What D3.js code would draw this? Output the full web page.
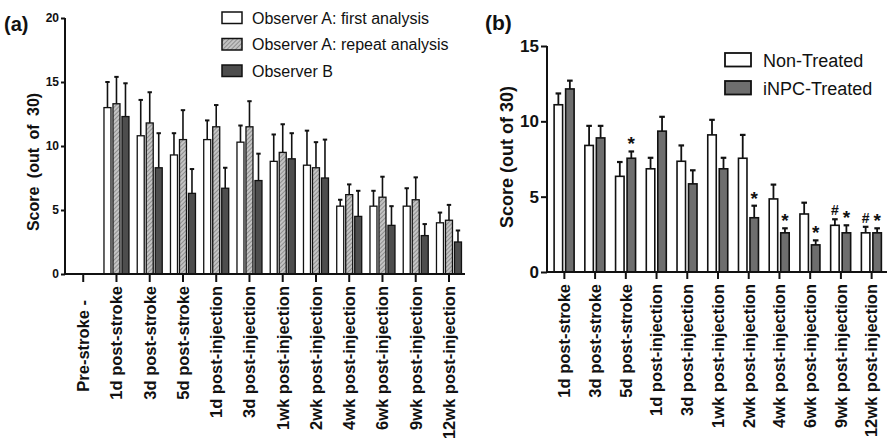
<!DOCTYPE html>
<html><head><meta charset="utf-8">
<script src="https://cdn.jsdelivr.net/npm/d3@7"></script>
<style>
body{margin:0;background:#fff;}
svg{display:block;font-family:Arial,"Liberation Sans",sans-serif;}
</style></head>
<body><svg id="c" width="895" height="446"></svg>
<script>
// ---------- Panel (a) data ----------
const catsA = ["Pre-stroke", "1d post-stroke", "3d post-stroke", "5d post-stroke", "1d post-injection", "3d post-injection", "1wk post-injection", "2wk post-injection", "4wk post-injection", "6wk post-injection", "9wk post-injection", "12wk post-injection"];
const tickLabelsA = ["Pre-stroke -", "1d post-stroke", "3d post-stroke", "5d post-stroke", "1d post-injection", "3d post-injection", "1wk post-injection", "2wk post-injection", "4wk post-injection", "6wk post-injection", "9wk post-injection", "12wk post-injection"];
const seriesNamesA = ["Observer A: first analysis", "Observer A: repeat analysis", "Observer B"];
const obsAFirst  = [null, 13.0, 10.8, 9.3, 10.5, 10.3, 8.8, 8.5, 5.3, 5.3, 5.3, 4.0];
const obsAFirstSD = [null, 2.0, 2.8, 1.7, 1.5, 1.3, 2.1, 2.7, 0.5, 1.2, 1.4, 0.8];
const obsARepeat = [null, 13.3, 11.8, 10.5, 11.5, 11.5, 9.5, 8.3, 6.2, 6.0, 5.8, 4.2];
const obsARepeatSD = [null, 2.1, 2.4, 2.3, 1.7, 2.0, 2.2, 2.0, 0.8, 1.6, 1.75, 1.2];
const obsB = [null, 12.3, 8.3, 6.3, 6.7, 7.3, 9.0, 7.5, 4.5, 3.8, 3.0, 2.5];
const obsBSD = [null, 2.6, 2.7, 1.9, 1.6, 2.1, 2.0, 3.0, 2.0, 1.5, 0.9, 0.9];
const yTicksA = [0, 5, 10, 15, 20];

// ---------- Panel (b) data ----------
const catsB = ["1d post-stroke", "3d post-stroke", "5d post-stroke", "1d post-injection", "3d post-injection", "1wk post-injection", "2wk post-injection", "4wk post-injection", "6wk post-injection", "9wk post-injection", "12wk post-injection"];
const seriesNamesB = ["Non-Treated", "iNPC-Treated"];
const nonTreated = [11.1, 8.4, 6.35, 6.85, 7.35, 9.1, 7.55, 4.85, 3.85, 3.1, 2.6];
const nonTreatedSD = [0.75, 1.3, 0.95, 0.73, 1.05, 1.0, 1.55, 0.95, 0.75, 0.4, 0.4];
const inpcTreated = [12.15, 8.9, 7.55, 9.35, 5.85, 6.85, 3.6, 2.6, 1.8, 2.6, 2.6];
const inpcTreatedSD = [0.55, 0.8, 0.45, 0.95, 0.9, 0.73, 0.8, 0.3, 0.3, 0.5, 0.3];
const markNonTreated = ["", "", "", "", "", "", "", "", "", "#", "#"];
const markInpc = ["", "", "*", "", "", "", "*", "*", "*", "*", "*"];
const yTicksB = [0, 5, 10, 15];

const svg = d3.select("#c");
const defs = svg.append("defs");
const pat = defs.append("pattern").attr("id","hatch").attr("patternUnits","userSpaceOnUse")
  .attr("width",3).attr("height",3).attr("patternTransform","rotate(45)");
pat.append("rect").attr("width",3).attr("height",3).attr("fill","#c4c4c4");
pat.append("line").attr("x1",0).attr("y1",0).attr("x2",0).attr("y2",3).attr("stroke","#6a6a6a").attr("stroke-width",1.2);

// ================= Panel (a) =================
const ga = svg.append("g");
const xA = d3.scaleBand().domain(catsA).range([66.6, 465.6]);
const yA = d3.scaleLinear().domain([0, 20]).range([274, 18]);
const seriesA = [
  {vals: obsAFirst, sd: obsAFirstSD, fill: "#ffffff"},
  {vals: obsARepeat, sd: obsARepeatSD, fill: "url(#hatch)"},
  {vals: obsB, sd: obsBSD, fill: "#4d4d4d"}
];
const bwA = 7, offA = [-9, 0, 9];
seriesA.forEach((s, si) => {
  catsA.forEach((c, i) => {
    const v = s.vals[i];
    if (v == null) return;
    const cx = xA(c) + xA.bandwidth()/2 + offA[si];
    const top = yA(v + s.sd[i]);
    ga.append("line").attr("x1",cx).attr("x2",cx).attr("y1",yA(v)).attr("y2",top)
      .attr("stroke","#111").attr("stroke-width",1.6);
    ga.append("line").attr("x1",cx-2.2).attr("x2",cx+2.2).attr("y1",top).attr("y2",top)
      .attr("stroke","#111").attr("stroke-width",2);
    ga.append("rect").attr("x",cx-bwA/2).attr("y",yA(v)).attr("width",bwA).attr("height",yA(0)-yA(v))
      .attr("fill",s.fill).attr("stroke","#111").attr("stroke-width",1.3);
  });
});
// y axis
const axA = ga.append("g").attr("transform","translate(65,0)")
  .call(d3.axisLeft(yA).tickValues(yTicksA).tickSize(4).tickPadding(2));
axA.select(".domain").attr("stroke","#111").attr("stroke-width",2).attr("d","M0,18V274");
axA.selectAll(".tick line").attr("stroke","#111").attr("stroke-width",2);
axA.selectAll(".tick text").attr("font-size",12).attr("font-weight","bold").attr("fill","#111")
  .attr("font-family","Arial,'Liberation Sans',sans-serif");
// x axis
const axXA = ga.append("g").attr("transform","translate(0,274)")
  .call(d3.axisBottom(xA).tickSize(8).tickFormat((d,i)=>tickLabelsA[i]));
axXA.select(".domain").attr("stroke","#111").attr("stroke-width",2).attr("d","M65,0H465");
axXA.selectAll(".tick line").attr("stroke","#111").attr("stroke-width",2).attr("y1",1);
axXA.selectAll(".tick text").attr("font-size",16.5).attr("font-weight","bold").attr("fill","#111")
  .attr("font-family","Arial,'Liberation Sans',sans-serif")
  .attr("text-anchor","end").attr("transform",(d,i)=>`translate(0,${i===0?26:12}) rotate(-90)`)
  .attr("x",0).attr("y",0).attr("dy","0.35em");
// y title
ga.append("text").attr("transform","translate(39,162) rotate(-90)").attr("text-anchor","middle")
  .attr("font-size",16).attr("font-weight","bold").attr("word-spacing",4).attr("fill","#111")
  .text("Score (out of 30)");
ga.append("text").attr("x",4).attr("y",31).attr("font-size",20).attr("font-weight","bold").attr("fill","#111").text("(a)");
// legend a
const legFillsA = ["#ffffff","url(#hatch)","#4d4d4d"];
seriesNamesA.forEach((n,i)=>{
  const y = 12 + i*26.5;
  ga.append("rect").attr("x",222).attr("y",y).attr("width",20).attr("height",11.5)
    .attr("fill",legFillsA[i]).attr("stroke","#111").attr("stroke-width",1.5);
  ga.append("text").attr("x",252).attr("y",y+11.5).attr("font-size",16).attr("fill","#111").text(n);
});

// ================= Panel (b) =================
const gb = svg.append("g");
const xB = d3.scaleBand().domain(catsB).range([549, 887]);
const yB = d3.scaleLinear().domain([0, 15]).range([272, 46]);
const seriesB = [
  {vals: nonTreated, sd: nonTreatedSD, fill: "#ffffff", mark: markNonTreated, off: -6, fs: 14},
  {vals: inpcTreated, sd: inpcTreatedSD, fill: "#6e6e6e", mark: markInpc, off: 5.5, fs: 19}
];
const bwB = 8.5;
seriesB.forEach((s) => {
  catsB.forEach((c, i) => {
    const v = s.vals[i];
    const cx = xB(c) + xB.bandwidth()/2 + s.off;
    const top = yB(v + s.sd[i]);
    gb.append("line").attr("x1",cx).attr("x2",cx).attr("y1",yB(v)).attr("y2",top)
      .attr("stroke","#111").attr("stroke-width",1.8);
    gb.append("line").attr("x1",cx-2.8).attr("x2",cx+2.8).attr("y1",top).attr("y2",top)
      .attr("stroke","#111").attr("stroke-width",2.2);
    gb.append("rect").attr("x",cx-bwB/2).attr("y",yB(v)).attr("width",bwB).attr("height",yB(0)-yB(v))
      .attr("fill",s.fill).attr("stroke","#111").attr("stroke-width",1.6);
    if (s.mark[i]) {
      gb.append("text").attr("x",cx).attr("y", s.mark[i]==="*" ? top-1 : top-4)
        .attr("text-anchor","middle").attr("font-size",s.fs).attr("font-weight","bold")
        .attr("fill","#111").text(s.mark[i]);
    }
  });
});
const axB = gb.append("g").attr("transform","translate(547,0)")
  .call(d3.axisLeft(yB).tickValues(yTicksB).tickSize(6).tickPadding(2));
axB.select(".domain").attr("stroke","#111").attr("stroke-width",2).attr("d","M0,46V272");
axB.selectAll(".tick line").attr("stroke","#111").attr("stroke-width",2);
axB.selectAll(".tick text").attr("font-size",17).attr("font-weight","bold").attr("fill","#111")
  .attr("font-family","Arial,'Liberation Sans',sans-serif");
const axXB = gb.append("g").attr("transform","translate(0,272)")
  .call(d3.axisBottom(xB).tickSize(7));
axXB.select(".domain").attr("stroke","#111").attr("stroke-width",2).attr("d","M547,0H887");
axXB.selectAll(".tick line").attr("stroke","#111").attr("stroke-width",2).attr("y1",1);
axXB.selectAll(".tick text").attr("font-size",16.5).attr("font-weight","bold").attr("fill","#111")
  .attr("font-family","Arial,'Liberation Sans',sans-serif")
  .attr("text-anchor","end").attr("transform","translate(0,12) rotate(-90)")
  .attr("x",0).attr("y",0).attr("dy","0.35em");
gb.append("text").attr("transform","translate(513,157) rotate(-90)").attr("text-anchor","middle")
  .attr("font-size",18).attr("font-weight","bold").attr("fill","#111").text("Score (out of 30)");
gb.append("text").attr("x",485).attr("y",30).attr("font-size",21).attr("font-weight","bold").attr("fill","#111").text("(b)");
const legFillsB = ["#ffffff","#6e6e6e"];
seriesNamesB.forEach((n,i)=>{
  const y = 53 + i*28;
  gb.append("rect").attr("x",725).attr("y",y).attr("width",26).attr("height",13.5)
    .attr("fill",legFillsB[i]).attr("stroke","#111").attr("stroke-width",1.8);
  gb.append("text").attr("x",763).attr("y",y+13.5).attr("font-size",18).attr("fill","#111").text(n);
});
</script></body></html>
